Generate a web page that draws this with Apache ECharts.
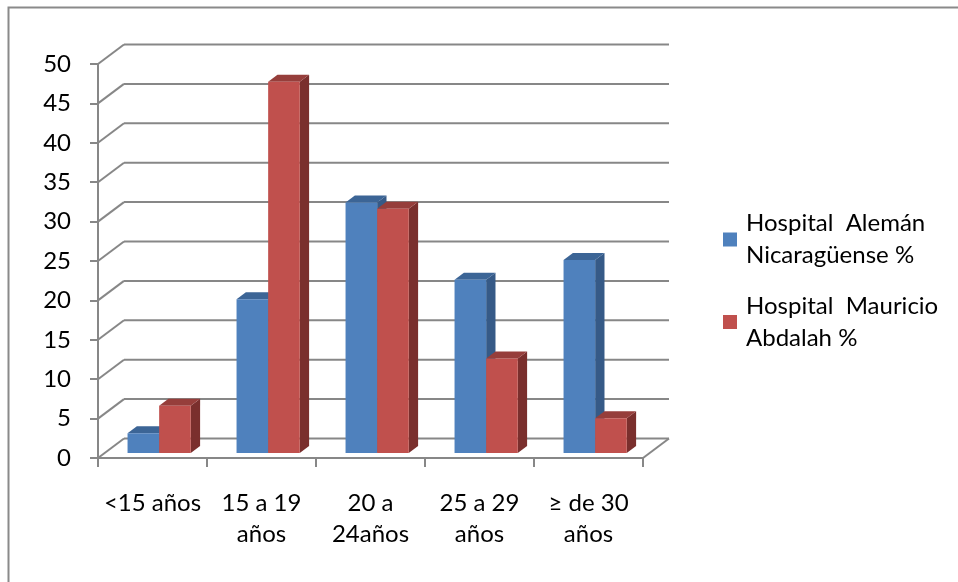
<!DOCTYPE html>
<html>
<head>
<meta charset="utf-8">
<script src="https://cdn.jsdelivr.net/npm/echarts@6/dist/echarts.min.js"></script>
<style>
html,body{margin:0;padding:0;background:#fff;}
#chart{width:958px;height:582px;}
</style>
</head>
<body>
<div id="chart"></div>
<script>
// ---- data ----
const categories = ['<15 años', '15 a 19\naños', '20 a\n24años', '25 a 29\naños', '≥ de 30\naños'];
const alemanValues = [2.5, 19.5, 31.8, 22.0, 24.5];
const abdalahValues = [6.0, 47.1, 31.0, 12.0, 4.4];
const yTicks = [0, 5, 10, 15, 20, 25, 30, 35, 40, 45, 50];
const seriesNames = ['Hospital  Alemán\nNicaragüense %', 'Hospital  Mauricio\nAbdalah %'];

// ---- style constants ----
const FONT = 'Lato';
const GRID_COLOR = '#878787';
const DEPTH_DX = 26, DEPTH_DY = -19.5;      // back wall offset
const BAR_FRONT = 0.256, BAR_BACK = 0.615;  // bar depth fractions
const BAR_FRAC = 0.29;                      // bar width as fraction of band
const colorsBlue = {front: '#4F81BD', top: '#3C6596', side: '#365A87'};
const colorsRed = {front: '#C0504D', top: '#963E3B', side: '#7A2F2D'};

function frameRender(params, api) {
  const cs = params.coordSys;
  const t = api.value(1);
  const y = api.coord([0, t])[1];
  const left = cs.x, right = cs.x + cs.width;
  const style = {stroke: GRID_COLOR, lineWidth: 2};
  const children = [
    {type: 'line', shape: {x1: left + DEPTH_DX, y1: y + DEPTH_DY, x2: right + DEPTH_DX, y2: y + DEPTH_DY}, style: style},
    {type: 'line', shape: {x1: left, y1: y, x2: left + DEPTH_DX, y2: y + DEPTH_DY}, style: style}
  ];
  if (t === yTicks[0]) {
    children.push({type: 'line', shape: {x1: right, y1: y, x2: right + DEPTH_DX, y2: y + DEPTH_DY}, style: style});
  }
  return {type: 'group', children: children};
}

function makeBarRender(idx, col) {
  return function (params, api) {
    const ci = api.value(0), v = api.value(1);
    const band = api.size([1, 0])[0];
    const top = api.coord([ci, v]);
    const base = api.coord([ci, 0]);
    const w = band * BAR_FRAC;
    const fx = DEPTH_DX * BAR_FRONT, fy = DEPTH_DY * BAR_FRONT;
    const bx = DEPTH_DX * (BAR_BACK - BAR_FRONT), by = DEPTH_DY * (BAR_BACK - BAR_FRONT);
    const x0 = base[0] - (idx === 0 ? w : 0) + fx;
    const x1 = x0 + w;
    const yT = top[1] + fy, yB = base[1] + fy;
    return {
      type: 'group',
      children: [
        {type: 'polygon', shape: {points: [[x1, yT], [x1 + bx, yT + by], [x1 + bx, yB + by], [x1, yB]]}, style: {fill: col.side}},
        {type: 'polygon', shape: {points: [[x0, yT], [x1, yT], [x1 + bx, yT + by], [x0 + bx, yT + by]]}, style: {fill: col.top}},
        {type: 'rect', shape: {x: x0, y: yT, width: w, height: yB - yT}, style: {fill: col.front}}
      ]
    };
  };
}

const chart = echarts.init(document.getElementById('chart'), null, {renderer: 'canvas'});
const legendBase = {
  orient: 'vertical', left: 723, padding: 0,
  itemWidth: 14, itemHeight: 14, icon: 'rect',
  textStyle: {fontFamily: FONT, fontSize: 24, lineHeight: 32, color: '#000', padding: [32, 0, 0, 4]}
};
chart.setOption({
  animation: false,
  backgroundColor: '#fff',
  graphic: [{
    type: 'rect', shape: {x: 8.5, y: 7.5, width: 1000, height: 1000},
    style: {fill: 'none', stroke: '#8a8a8a', lineWidth: 2}, silent: true
  }],
  legend: [
    Object.assign({}, legendBase, {top: 191.5, data: [seriesNames[0]]}),
    Object.assign({}, legendBase, {top: 274, data: [seriesNames[1]]})
  ],
  grid: {left: 98, top: 64, width: 545, height: 394, containLabel: false},
  xAxis: {
    type: 'category', data: categories, boundaryGap: true,
    axisLine: {show: true, lineStyle: {color: GRID_COLOR, width: 2}},
    axisTick: {show: true, length: 9, lineStyle: {color: GRID_COLOR, width: 2}},
    axisLabel: {fontFamily: FONT, fontSize: 24, lineHeight: 31, color: '#000', margin: 30, interval: 0},
    splitLine: {show: false}
  },
  yAxis: {
    type: 'value', min: 0, max: 50, interval: 5,
    axisLine: {show: true, lineStyle: {color: GRID_COLOR, width: 2}},
    axisTick: {show: true, length: 8, lineStyle: {color: GRID_COLOR, width: 2}},
    axisLabel: {fontFamily: FONT, fontSize: 24, color: '#000', margin: 27},
    splitLine: {show: false}
  },
  series: [
    {
      type: 'custom', name: '__frame', silent: true, z: 1,
      renderItem: frameRender,
      data: yTicks.map(t => [0, t])
    },
    {
      type: 'custom', name: seriesNames[0], z: 2,
      itemStyle: {color: colorsBlue.front},
      renderItem: makeBarRender(0, colorsBlue),
      data: alemanValues.map((v, i) => [i, v])
    },
    {
      type: 'custom', name: seriesNames[1], z: 3,
      itemStyle: {color: colorsRed.front},
      renderItem: makeBarRender(1, colorsRed),
      data: abdalahValues.map((v, i) => [i, v])
    }
  ]
});
</script>
</body>
</html>
